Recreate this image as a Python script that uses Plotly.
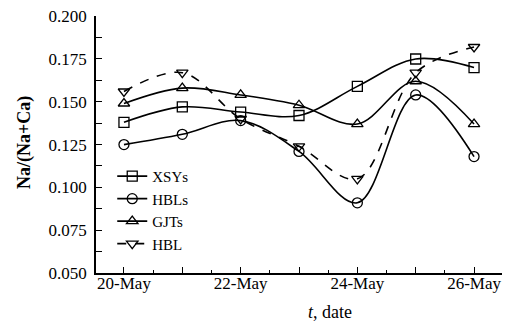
import plotly.graph_objects as go

dates = ["2007-05-20", "2007-05-21", "2007-05-22", "2007-05-23",
         "2007-05-24", "2007-05-25", "2007-05-26"]
xsys = [0.138, 0.147, 0.144, 0.142, 0.159, 0.175, 0.170]
hbls = [0.125, 0.131, 0.139, 0.121, 0.091, 0.154, 0.118]
gjts = [0.149, 0.158, 0.154, 0.148, 0.137, 0.162, 0.137]
hbl = [0.156, 0.167, 0.140, 0.124, 0.105, 0.167, 0.182]

tick_vals = dates
tick_text = ["20-May", "", "22-May", "", "24-May", "", "26-May"]
y_ticks = [0.050, 0.075, 0.100, 0.125, 0.150, 0.175, 0.200]

FONT = "Liberation Serif"

series = [
    ("XSYs", xsys, "square-open", "solid"),
    ("HBLs", hbls, "circle-open", "solid"),
    ("GJTs", gjts, "triangle-up-open", "solid"),
    ("HBL", hbl, "triangle-down-open", "dash"),
]

fig = go.Figure()
for name, vals, sym, dash in series:
    fig.add_trace(go.Scatter(
        x=dates, y=vals, name=name, mode="lines+markers",
        line=dict(color="black", width=1.6, shape="spline", smoothing=1.0, dash=dash),
        marker=dict(symbol=sym, size=10, color="black", line=dict(width=1.3, color="black")),
    ))

# page body has an 8px margin, so the figure is sized/offset to compensate
fig.update_layout(
    width=502, height=315,
    margin=dict(l=88, r=8, t=8, b=50),
    paper_bgcolor="white", plot_bgcolor="white",
    font=dict(family=FONT, size=16, color="black"),
    showlegend=True,
    legend=dict(x=0.04, y=0.44, xanchor="left", yanchor="top",
                bgcolor="rgba(0,0,0,0)", font=dict(family=FONT, size=15),
                tracegroupgap=0, itemwidth=30),
    xaxis=dict(
        type="date", automargin=False,
        range=["2007-05-19 12:30", "2007-05-26 11:30"],
        tickvals=tick_vals, ticktext=tick_text,
        ticks="inside", ticklen=6, tickcolor="black", tickwidth=1,
        minor=dict(ticks="inside", ticklen=3, dtick=43200000,
                   tick0="2007-05-20 12:00", tickcolor="black"),
        showline=True, linecolor="black", linewidth=1.5,
        showgrid=False, zeroline=False,
        tickfont=dict(family=FONT, size=17),
        ticklabelstandoff=-6, ticklabeloverflow="allow",
    ),
    yaxis=dict(
        range=[0.05, 0.2001], automargin=False,
        tickvals=y_ticks, tickformat=".3f",
        ticks="inside", ticklen=6, tickcolor="black",
        minor=dict(ticks="inside", ticklen=6, dtick=0.0125, tick0=0.05, tickcolor="black"),
        showline=True, linecolor="black", linewidth=1.5,
        showgrid=False, zeroline=False,
        tickfont=dict(family=FONT, size=17),
        ticklabelstandoff=4, ticklabeloverflow="allow",
    ),
    annotations=[
        dict(text="<i>t</i>, date", xref="paper", yref="paper",
             x=(322 - 88) / 406, y=-(292 - 265) / 257, xanchor="center", yanchor="top",
             showarrow=False, font=dict(family=FONT, size=18)),
        dict(text="<b>Na/(Na+Ca)</b>", xref="paper", yref="paper", textangle=-90,
             x=-(88 - 16) / 406, y=(265 - 135) / 257, xanchor="center", yanchor="middle",
             showarrow=False, font=dict(family=FONT, size=18)),
    ],
)

fig.write_html("out.html")
